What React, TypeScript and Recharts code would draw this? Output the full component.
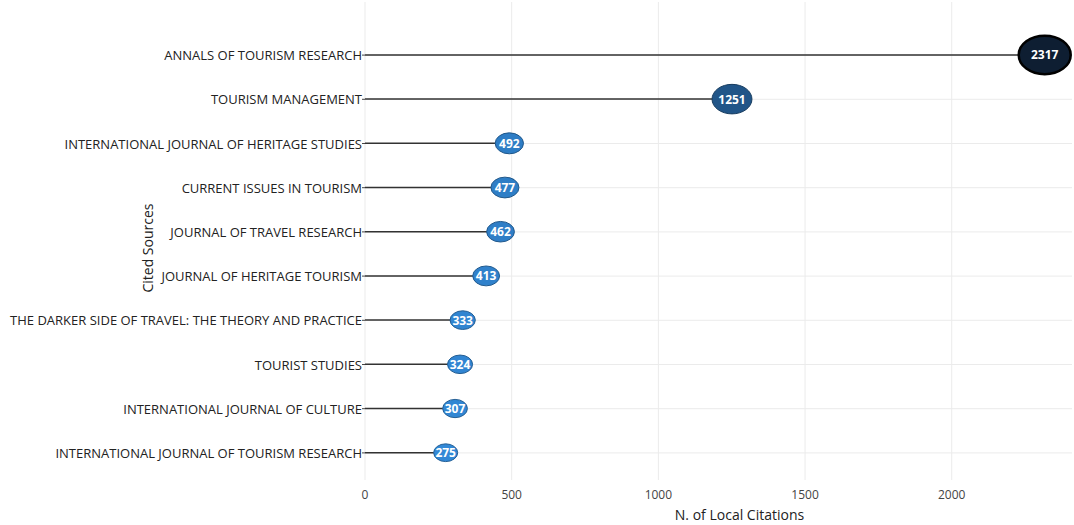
import { ComposedChart, Bar, XAxis, YAxis, CartesianGrid, Label } from "recharts";

// Most local cited sources
const SOURCES = [
  "ANNALS OF TOURISM RESEARCH",
  "TOURISM MANAGEMENT",
  "INTERNATIONAL JOURNAL OF HERITAGE STUDIES",
  "CURRENT ISSUES IN TOURISM",
  "JOURNAL OF TRAVEL RESEARCH",
  "JOURNAL OF HERITAGE TOURISM",
  "THE DARKER SIDE OF TRAVEL: THE THEORY AND PRACTICE",
  "TOURIST STUDIES",
  "INTERNATIONAL JOURNAL OF CULTURE",
  "INTERNATIONAL JOURNAL OF TOURISM RESEARCH",
];
const CITATIONS = [2317, 1251, 492, 477, 462, 413, 333, 324, 307, 275];
const X_TICKS = [0, 500, 1000, 1500, 2000];

const data = SOURCES.map((name, i) => ({ name, citations: CITATIONS[i] }));

const MIN_V = Math.min(...CITATIONS);
const MAX_V = Math.max(...CITATIONS);

// colour gradient low -> high
const LOW = [50, 136, 214];
const HIGH = [14, 30, 50];

function mixAt(v: number, k = 1) {
  const t = (v - MIN_V) / (MAX_V - MIN_V);
  const c = LOW.map((c0, i) => Math.round((c0 + (HIGH[i] - c0) * t) * k));
  return `rgb(${c[0]},${c[1]},${c[2]})`;
}

// eslint-disable-next-line @typescript-eslint/no-explicit-any
const Lollipop = (props: any) => {
  const { x, y, width, height, payload } = props;
  const v = payload.citations;
  const cy = y + height / 2;
  const cx = x + width;
  // size scale: area grows with value
  const rx = Math.sqrt(576 + 1.042 * (v - MIN_V)) / 2;
  const ry = rx * 0.74;
  const big = v === MAX_V;
  return (
    <g>
      <line x1={x} y1={cy} x2={cx} y2={cy} stroke="#333" strokeWidth={1.5} />
      <ellipse
        cx={cx}
        cy={cy}
        rx={rx}
        ry={ry}
        fill={mixAt(v)}
        stroke={big ? "#000" : mixAt(v, 0.7)}
        strokeWidth={big ? 2.5 : 1}
      />
      <text
        x={cx}
        y={cy}
        textAnchor="middle"
        dominantBaseline="central"
        fill="#fff"
        fontWeight="bold"
        fontSize={12}
      >
        {v}
      </text>
    </g>
  );
};

// eslint-disable-next-line @typescript-eslint/no-explicit-any
const SourceTick = (props: any) => {
  const { x, y, payload } = props;
  return (
    <text x={x} y={y} textAnchor="end" dominantBaseline="central" fill="#222" fontSize={13}>
      {payload.value}
    </text>
  );
};

// eslint-disable-next-line @typescript-eslint/no-explicit-any
const YTitle = (props: any) => {
  const vb = props.viewBox;
  const cx = vb.x + 147;
  const cy = vb.y + vb.height / 2 + 7;
  return (
    <text
      x={cx}
      y={cy}
      transform={`rotate(-90 ${cx} ${cy})`}
      textAnchor="middle"
      dominantBaseline="central"
      fill="#222"
      fontSize={14}
    >
      Cited Sources
    </text>
  );
};

export default function App() {
  return (
    <div
      style={{
        position: "absolute",
        left: 0,
        top: 0,
        width: 1074,
        height: 525,
        background: "#fff",
        fontFamily: "'Open Sans', sans-serif",
      }}
    >
      <ComposedChart
        width={1074}
        height={525}
        data={data}
        layout="vertical"
        margin={{ top: 2, right: 2, bottom: 0, left: 0 }}
      >
        <CartesianGrid stroke="#ebebeb" strokeWidth={1} syncWithTicks />
        <XAxis
          type="number"
          dataKey="citations"
          domain={[0, 2410]}
          ticks={X_TICKS}
          axisLine={false}
          tickLine={false}
          tick={{ fill: "#444", fontSize: 12 }}
          tickMargin={4}
          height={45}
        >
          <Label
            value="N. of Local Citations"
            position="insideBottom"
            offset={5}
            dx={21}
            fill="#222"
            fontSize={14}
          />
        </XAxis>
        <YAxis
          type="category"
          dataKey="name"
          width={365}
          axisLine={false}
          tickLine={{ stroke: "#444" }}
          tickSize={3}
          tickMargin={0}
          tick={<SourceTick />}
          padding={{ top: 31, bottom: 5 }}
          interval={0}
        >
          <Label content={<YTitle />} />
        </YAxis>
        <Bar dataKey="citations" shape={Lollipop} isAnimationActive={false} />
      </ComposedChart>
    </div>
  );
}
